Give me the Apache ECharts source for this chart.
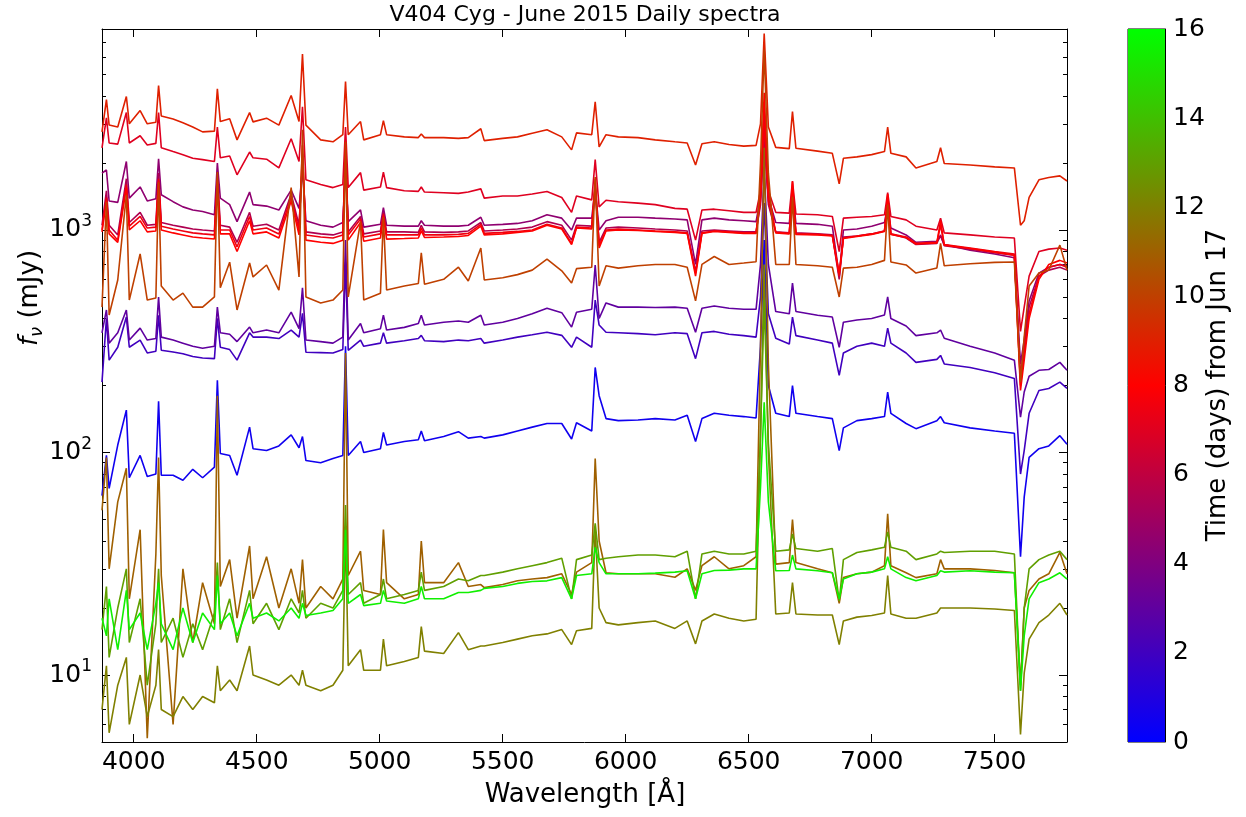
<!DOCTYPE html>
<html>
<head>
<meta charset="utf-8">
<title>V404 Cyg - June 2015 Daily spectra</title>
<script src="https://cdn.jsdelivr.net/npm/echarts@6.0.0/dist/echarts.min.js"></script>
<style>
  html, body { margin: 0; padding: 0; background: #fff; }
  #chart { width: 1246px; height: 817px; }
</style>
</head>
<body>
<div id="chart"></div>
<script>
// wavelength grid (Angstrom), shared by every spectrum
const wavelength = [
  3871, 3889, 3900, 3935, 3970, 3982, 4026, 4055, 4090, 4101,
  4112, 4160, 4200, 4240, 4280, 4328, 4340, 4352, 4390, 4420,
  4471, 4485, 4540, 4590, 4640, 4672, 4686, 4700, 4760, 4810,
  4850, 4861, 4872, 4922, 4935, 5003, 5015, 5028, 5100, 5157,
  5169, 5182, 5260, 5320, 5360, 5411, 5425, 5500, 5560, 5620,
  5680, 5740, 5780, 5800, 5862, 5876, 5892, 5920, 5970, 6050,
  6120, 6200, 6250, 6284, 6310, 6360, 6420, 6480, 6530, 6548,
  6563, 6580, 6610, 6665, 6678, 6692, 6780, 6840, 6868, 6885,
  6940, 7000, 7052, 7065, 7078, 7140, 7180, 7265, 7280, 7295,
  7400, 7500, 7580, 7605, 7620, 7640, 7680, 7720, 7765, 7794
];

// time of each spectrum (days from Jun 17)
const days = [0.5, 2, 3, 4.5, 5.5, 7, 7.5, 8, 9, 10, 11, 12, 13, 15.5];

// flux density (mJy), one list per day
const flux00 = [
  64, 97, 69, 108, 155, 77, 97, 78, 80, 170,
  79, 79, 75, 84, 77, 86, 211, 99, 97, 79,
  130, 104, 102, 107, 120, 105, 118, 92, 90, 94,
  97, 300, 97, 112, 100, 104, 123, 108, 112, 114,
  125, 113, 118, 124, 116, 118, 116, 120, 125, 130,
  135, 135, 115, 136, 125, 241, 180, 142, 139, 140,
  142, 140, 147, 112, 142, 150, 147, 145, 143, 300,
  900, 200, 150, 145, 200, 150, 145, 142, 102, 129,
  139, 142, 145, 187, 150, 135, 128, 139, 145, 136,
  129, 125, 122, 34, 63, 95, 104, 107, 119, 109
];
const flux02 = [
  207, 400, 260, 297, 406, 297, 320, 280, 285, 414,
  288, 283, 278, 270, 266, 264, 401, 297, 290, 260,
  345, 330, 330, 325, 355, 330, 422, 282, 281, 280,
  290, 716, 288, 320, 300, 310, 345, 310, 318, 325,
  336, 318, 315, 320, 318, 325, 310, 320, 330, 338,
  347, 336, 297, 330, 297, 484, 374, 347, 345, 342,
  338, 345, 342, 264, 345, 350, 340, 335, 330, 500,
  1320, 420, 326, 307, 406, 335, 320, 310, 222, 280,
  300, 310, 300, 362, 310, 280, 254, 262, 273, 250,
  241, 228, 215, 80, 102, 150, 190, 194, 207, 194
];
const flux03 = [
  345, 437, 310, 345, 437, 320, 362, 320, 325, 500,
  330, 320, 310, 300, 294, 300, 450, 345, 340, 315,
  366, 345, 355, 345, 427, 360, 550, 320, 315, 310,
  330, 900, 320, 380, 345, 360, 414, 355, 365, 380,
  414, 374, 385, 390, 385, 414, 374, 385, 400, 420,
  445, 425, 366, 427, 440, 696, 400, 470, 450, 450,
  448, 450, 445, 347, 445, 455, 445, 440, 440, 700,
  1920, 700, 430, 420, 577, 430, 414, 406, 297, 385,
  394, 400, 415, 500, 400, 370, 335, 345, 355, 326,
  300, 280, 260, 144, 187, 220, 234, 236, 254, 234
];
const flux04 = [
  1800, 1860, 1350, 1330, 2030, 1390, 1560, 1350, 1380, 2090,
  1440, 1340, 1270, 1230, 1210, 1170, 2000, 1390, 1300, 1090,
  1480, 1300, 1280, 1230, 1510, 1250, 1900, 1100, 1050, 1030,
  1080, 2000, 1090, 1230, 1030, 1060, 1260, 1050, 1040, 1040,
  1100, 1050, 1040, 1040, 1050, 1140, 1050, 1060, 1070, 1100,
  1170, 1130, 1000, 1130, 1130, 1550, 1000, 1100, 1140, 1140,
  1130, 1120, 1110, 700, 1110, 1130, 1110, 1100, 1090, 1400,
  2500, 1400, 1080, 1070, 1500, 1070, 1060, 1040, 620, 1000,
  1010, 1040, 1080, 1270, 1020, 950, 880, 890, 940, 860,
  810, 780, 750, 250, 320, 480, 640, 680, 700, 690
];
const flux05 = [
  1050, 1500, 1050, 950, 1700, 1080, 1200, 1050, 1060, 1800,
  1080, 1050, 1030, 1010, 1000, 990, 1800, 1050, 1030, 880,
  1200, 1040, 1060, 1000, 1450, 1050, 2000, 980, 960, 950,
  980, 2100, 980, 1150, 960, 990, 1200, 980, 980, 975,
  1050, 980, 975, 980, 990, 1080, 990, 1000, 1010, 1030,
  1090, 1050, 900, 1050, 1040, 1500, 880, 1020, 1030, 1020,
  1010, 1000, 990, 650, 990, 1000, 990, 980, 980, 1300,
  2700, 1300, 980, 970, 1450, 970, 960, 950, 600, 930,
  940, 960, 990, 1250, 960, 920, 860, 870, 950, 850,
  820, 790, 770, 220, 300, 450, 620, 660, 680, 660
];
const flux07 = [
  2340, 3190, 2460, 2430, 3370, 2460, 2650, 2410, 2450, 3370,
  2340, 2250, 2180, 2100, 2070, 2030, 2900, 2110, 2150, 1770,
  2240, 2110, 2080, 1900, 2570, 2030, 3580, 1680, 1600, 1550,
  1600, 2900, 1550, 1810, 1510, 1560, 1820, 1550, 1500, 1490,
  1560, 1480, 1470, 1460, 1480, 1530, 1390, 1420, 1420, 1450,
  1490, 1400, 1200, 1420, 1365, 2070, 1270, 1360, 1340, 1320,
  1300, 1250, 1240, 900, 1230, 1240, 1220, 1200, 1200, 1500,
  3400, 1500, 1200, 1190, 1660, 1180, 1170, 1150, 800, 1130,
  1140, 1150, 1170, 1470, 1150, 1110, 1040, 1000, 1130, 970,
  950, 930, 920, 350, 450, 620, 800, 820, 830, 810
];
const flux075 = [
  1000, 1400, 1000, 900, 1600, 1040, 1150, 1020, 1030, 1700,
  1040, 1010, 990, 970, 960, 950, 1700, 1000, 1000, 840,
  1150, 1000, 1020, 960, 1400, 1000, 2200, 950, 930, 920,
  950, 2300, 950, 1120, 930, 960, 1180, 950, 950, 950,
  1020, 950, 950, 955, 965, 1060, 965, 975, 985, 1000,
  1060, 1020, 870, 1030, 1020, 1600, 850, 1000, 1010, 1000,
  990, 980, 970, 640, 970, 990, 980, 970, 970, 1350,
  3000, 1350, 975, 965, 1500, 960, 955, 945, 620, 920,
  940, 960, 990, 1350, 960, 930, 870, 880, 1050, 860,
  830, 800, 780, 200, 280, 420, 620, 680, 700, 680
];
const flux08 = [
  980, 1350, 960, 880, 1550, 1000, 1100, 980, 990, 1650,
  1000, 970, 950, 930, 920, 910, 1650, 960, 960, 800,
  1100, 960, 980, 920, 1350, 950, 2400, 900, 880, 870,
  900, 2500, 900, 1080, 890, 920, 1150, 910, 915, 920,
  990, 925, 930, 935, 945, 1040, 950, 960, 975, 990,
  1050, 1010, 860, 1020, 1010, 1700, 830, 990, 1000, 995,
  985, 975, 965, 620, 965, 985, 975, 965, 965, 1500,
  4140, 1500, 970, 960, 1650, 955, 950, 940, 640, 915,
  935, 955, 985, 1450, 955, 925, 865, 875, 1100, 855,
  825, 795, 770, 190, 260, 400, 600, 700, 730, 710
];
const flux09 = [
  2760, 3850, 2960, 2900, 3980, 3000, 3440, 3000, 3050, 4450,
  3250, 3150, 3030, 2900, 2760, 2780, 4310, 3070, 3160, 2540,
  3370, 3060, 3180, 2960, 4020, 3070, 6180, 2960, 2540, 2490,
  2680, 4640, 2680, 3070, 2540, 2680, 3100, 2680, 2620, 2600,
  2700, 2600, 2600, 2580, 2600, 2850, 2520, 2580, 2620, 2720,
  2820, 2620, 2290, 2730, 2680, 3770, 2360, 2680, 2620, 2600,
  2540, 2490, 2460, 1960, 2440, 2490, 2420, 2380, 2400, 3000,
  7630, 2900, 2350, 2320, 3400, 2330, 2260, 2210, 1610, 2100,
  2130, 2180, 2250, 2900, 2210, 2130, 1900, 2030, 2340, 1990,
  1960, 1920, 1900, 1050, 1100, 1400, 1680, 1720, 1750, 1660
];
const flux10 = [
  450, 1340, 415, 596, 1440, 484, 780, 484, 495, 1640,
  560, 484, 520, 450, 450, 500, 1820, 550, 716, 437,
  710, 615, 696, 537, 1550, 615, 2820, 500, 470, 484,
  537, 2490, 500, 1090, 484, 520, 1140, 537, 560, 575,
  790, 570, 600, 680, 590, 830, 596, 610, 630, 660,
  740, 655, 577, 670, 680, 1730, 560, 690, 674, 690,
  700, 700, 680, 480, 700, 760, 700, 710, 720, 2000,
  6470, 1800, 700, 700, 1410, 700, 690, 680, 500, 674,
  680, 700, 730, 1300, 718, 696, 640, 675, 870, 690,
  705, 715, 718, 207, 330, 560, 640, 661, 855, 661
];
const flux11 = [
  55, 95, 30, 60, 85, 22, 45, 5.2, 35, 95,
  28, 6, 30, 14, 26, 17, 180, 25, 33, 18,
  38, 22, 34, 20, 30, 21, 33, 20, 25, 22,
  27, 280, 28, 36, 24, 23, 45, 26, 22, 23,
  40, 26, 26, 32, 25, 25.5, 24.7, 25.5, 26.5, 27,
  27.4, 28.5, 23, 29, 32, 94, 40, 28.8, 28.5, 28.5,
  28.5, 27.5, 30, 24, 31, 34, 30, 31, 34, 300,
  2340, 250, 31.5, 32, 50, 32, 30, 28.8, 21, 27.4,
  28.5, 29, 31, 53, 31, 28.8, 27.4, 28.5, 33, 30,
  30, 29.5, 28.8, 9, 20, 24, 27, 28.5, 35.6, 28.5
];
const flux12 = [
  7, 11, 5.5, 9, 12, 6, 10, 6.5, 9, 13,
  7, 6.5, 8, 7, 8, 7.5, 11, 8.5, 9.5, 8.5,
  13.5, 10, 9.5, 9, 10, 9, 10.5, 9, 8.5, 9,
  10.5, 45, 11, 13, 10.5, 10.5, 14.5, 11, 11.5, 12,
  16.5, 12.8, 12.5, 15.5, 13, 13.5, 13.5, 14, 14.5, 15,
  15.3, 16, 13.7, 15.8, 16.2, 45, 20, 17.2, 16.8, 17.2,
  17.5, 16.2, 17.5, 13.8, 17.5, 18.8, 18, 17.5, 17.8, 120,
  700, 100, 18.8, 19, 26, 18.8, 18.6, 18.6, 13.7, 17.5,
  18.2, 18.5, 19, 28, 18.8, 18, 18, 19, 20, 20,
  20, 19.8, 19.5, 5.4, 10.2, 14.5, 17.2, 18.6, 21, 18.6
];
const flux13 = [
  16, 25, 12, 20, 30, 14, 22, 9, 17, 30,
  14, 18, 12, 17, 13, 19, 32, 16, 22, 14,
  24, 17, 21, 16, 22, 19, 24, 18, 21, 20,
  24, 58, 23, 26, 21, 23, 27, 22, 23, 24,
  29, 24, 25, 27, 26.5, 28, 28, 29, 30, 31,
  32, 33.5, 22, 33, 34.6, 48, 33, 33.5, 34, 34.6,
  34.6, 34, 36, 22, 35, 36, 35, 35, 36, 120,
  484, 110, 36, 36.5, 43, 37, 36, 37, 21.5, 33,
  35.5, 36.5, 37.5, 44, 37.5, 36, 33, 35, 36, 35.5,
  36, 36, 35, 8.5, 20, 30, 33, 34.6, 36, 33
];
const flux15 = [
  18, 15, 22, 13, 24, 16, 19, 13, 21, 26,
  17, 13, 20, 14, 19, 16, 28, 17, 19, 15,
  21, 18, 19, 17.5, 20, 18, 21, 18.5, 19, 19.5,
  22, 45, 21, 23, 20.5, 21, 24, 21.5, 21, 22,
  25, 22, 22, 23.5, 23.5, 24, 24.5, 25, 25.8, 26.3,
  26.5, 27.4, 22, 28, 28.5, 37.5, 32, 28.5, 28.5, 28.5,
  28.7, 29, 29.4, 22, 28.5, 29.5, 29.6, 30, 30, 70,
  168, 60, 29.4, 29.5, 34.6, 30, 29.4, 28.8, 22, 27,
  28.5, 29, 30, 34, 30, 27.4, 26.5, 28, 29.4, 29,
  29.4, 29, 28.8, 8.5, 15, 22, 26, 27, 28.8, 27
];
const fluxByDay = [flux00, flux02, flux03, flux04, flux05, flux07, flux075,
                   flux08, flux09, flux10, flux11, flux12, flux13, flux15];

// axis ticks
const xTicks = [4000, 4500, 5000, 5500, 6000, 6500, 7000, 7500];
const yTicks = [10, 100, 1000];
const timeRange = [0, 16];

const FONT = 'DejaVu Sans';
const XMIN = 3871, XMAX = 7794, YMIN = 5, YMAX = 8000;

// blue -> red -> green colormap used for the time colour bar
function dayColor(t) {
  let r, g, b;
  if (t <= 8) { r = 255 * t / 8; g = 0; b = 255 * (1 - t / 8); }
  else { r = 255 * (16 - t) / 8; g = 255 * (t - 8) / 8; b = 0; }
  return 'rgb(' + Math.round(r) + ',' + Math.round(g) + ',' + Math.round(b) + ')';
}

const minorTicks = [];
[1, 10, 100, 1000].forEach(d => {
  for (let k = 2; k <= 9; k++) {
    const v = k * d;
    if (v > YMIN && v < YMAX) minorTicks.push(v);
  }
});

const black = { color: '#000', width: 1 };

function logAxis(position, ticks, len, showLine, showLabel) {
  return {
    type: 'log', gridIndex: 0, min: YMIN, max: YMAX, position: position,
    axisLine: { show: showLine, lineStyle: black },
    axisTick: { show: true, inside: true, length: len, customValues: ticks, lineStyle: black },
    axisLabel: showLabel ? {
      customValues: yTicks, margin: 10, color: '#000', fontFamily: FONT, fontSize: 25,
      formatter: v => '{b|10}{s|' + Math.round(Math.log10(v)) + '}',
      rich: {
        b: { fontSize: 25, fontFamily: FONT, color: '#000' },
        s: { fontSize: 17, fontFamily: FONT, color: '#000', verticalAlign: 'bottom', padding: [0, 0, 16, 0] }
      }
    } : { show: false },
    splitLine: { show: false }
  };
}

function wlAxis(position, showLabel) {
  return {
    type: 'value', gridIndex: 0, min: XMIN, max: XMAX, position: position,
    axisLine: { onZero: false, lineStyle: black },
    axisTick: { inside: true, length: 8, customValues: xTicks, lineStyle: black },
    axisLabel: showLabel ? {
      customValues: xTicks, margin: 8, color: '#000', fontFamily: FONT, fontSize: 25,
      formatter: v => String(v)
    } : { show: false },
    splitLine: { show: false }
  };
}

const series = fluxByDay.map((flux, i) => ({
  type: 'line',
  name: 'day ' + days[i],
  xAxisIndex: 0,
  yAxisIndex: 0,
  symbol: 'none',
  silent: true,
  lineStyle: { color: dayColor(days[i]), width: 1.6 },
  data: wavelength.map((w, j) => [w, flux[j]])
}));

series.push({
  type: 'bar',
  xAxisIndex: 2,
  yAxisIndex: 4,
  barWidth: '100%',
  silent: true,
  data: [timeRange[1]],
  itemStyle: {
    color: new echarts.graphic.LinearGradient(0, 0, 0, 1, [
      { offset: 0, color: dayColor(16) },
      { offset: 0.5, color: dayColor(8) },
      { offset: 1, color: dayColor(0) }
    ])
  }
});

const chart = echarts.init(document.getElementById('chart'));
chart.setOption({
  animation: false,
  backgroundColor: '#fff',
  textStyle: { fontFamily: FONT },
  grid: [
    { left: 102, right: 179, top: 29, bottom: 75, show: false },
    { left: 1128, width: 37, top: 29, bottom: 75, show: true, borderColor: '#000', borderWidth: 1 }
  ],
  xAxis: [
    wlAxis('bottom', true),
    wlAxis('top', false),
    { type: 'category', gridIndex: 1, data: ['t'], show: false }
  ],
  yAxis: [
    logAxis('left', yTicks, 8, true, true),
    logAxis('right', yTicks, 8, true, false),
    logAxis('left', minorTicks, 4, false, false),
    logAxis('right', minorTicks, 4, false, false),
    {
      type: 'value', gridIndex: 1, min: timeRange[0], max: timeRange[1], interval: 2, position: 'right',
      axisLine: { show: true, lineStyle: black },
      axisTick: { inside: true, length: 6, lineStyle: black },
      axisLabel: { margin: 8, color: '#000', fontFamily: FONT, fontSize: 25 },
      splitLine: { show: false }
    }
  ],
  series: series,
  graphic: [
    {
      type: 'text', x: 585, y: 15,
      style: { text: 'V404 Cyg - June 2015 Daily spectra', font: '22px "DejaVu Sans"', fill: '#000',
               textAlign: 'center', textVerticalAlign: 'middle' }
    },
    {
      type: 'text', x: 585, y: 795,
      style: { text: 'Wavelength [Å]', font: '26px "DejaVu Sans"', fill: '#000',
               textAlign: 'center', textVerticalAlign: 'middle' }
    },
    {
      type: 'text', x: 30, y: 298, rotation: Math.PI / 2,
      style: {
        text: '{f|f}{n|ν} (mJy)', font: '26px "DejaVu Sans"', fill: '#000',
        textAlign: 'center', textVerticalAlign: 'middle',
        rich: {
          f: { fontSize: 26, fontStyle: 'italic', fontFamily: FONT, fill: '#000' },
          n: { fontSize: 18, fontStyle: 'italic', fontFamily: FONT, fill: '#000', verticalAlign: 'top', padding: [14, 0, 0, 0] }
        }
      }
    },
    {
      type: 'text', x: 1218, y: 385, rotation: Math.PI / 2,
      style: { text: 'Time (days) from Jun 17', font: '26px "DejaVu Sans"', fill: '#000',
               textAlign: 'center', textVerticalAlign: 'middle' }
    }
  ]
});
</script>
</body>
</html>
